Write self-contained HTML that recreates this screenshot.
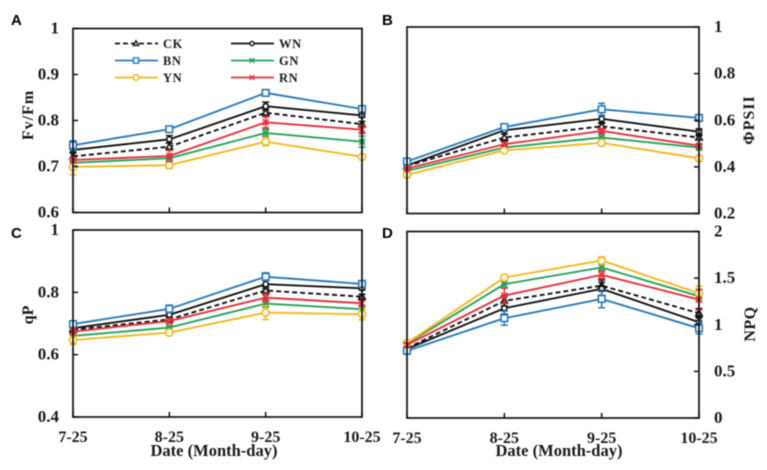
<!DOCTYPE html>
<html>
<head>
<meta charset="utf-8">
<style>
html,body{margin:0;padding:0;background:#fff;width:767px;height:470px;overflow:hidden}
svg{display:block;filter:blur(0.45px)}
text{font-family:"Liberation Serif",serif;font-weight:bold;fill:#1a1a1a}
.letter{font-family:"Liberation Sans",sans-serif;font-size:15px;fill:#000}
.tick{font-size:17px}
.cat{font-size:16px}
.leg{font-size:12.5px}
</style>
</head>
<body>
<svg id="chart" xmlns="http://www.w3.org/2000/svg" width="767" height="470" viewBox="0 0 767 470"></svg>
<script>
const categories = ['7-25','8-25','9-25','10-25'];
const seriesNames = ['CK','WN','BN','GN','YN','RN'];

const ticksA = [0.6,0.7,0.8,0.9,1];
const ticksB = [0.2,0.4,0.6,0.8,1];
const ticksC = [0.4,0.6,0.8,1];
const ticksD = [0,0.5,1,1.5,2];

const A_CK = [0.722,0.743,0.817,0.792];
const A_WN = [0.736,0.759,0.831,0.811];
const A_BN = [0.746,0.781,0.860,0.825];
const A_GN = [0.708,0.718,0.773,0.754];
const A_YN = [0.699,0.703,0.754,0.721];
const A_RN = [0.714,0.723,0.796,0.780];
const errA_CK = [0.007,0.008,0.009,0.006];
const errA_WN = [0.006,0.008,0.009,0.004];
const errA_BN = [0.010,0.003,0.003,0.004];
const errA_GN = [0.004,0.003,0.008,0.012];
const errA_YN = [0.017,0.007,0.009,0.003];
const errA_RN = [0.004,0.012,0.012,0.008];

const B_CK = [0.404,0.526,0.574,0.526];
const B_WN = [0.406,0.557,0.606,0.551];
const B_BN = [0.423,0.571,0.647,0.610];
const B_GN = [0.383,0.483,0.526,0.483];
const B_YN = [0.366,0.471,0.503,0.437];
const B_RN = [0.393,0.497,0.554,0.491];
const errB_CK = [0.006,0.015,0.012,0.008];
const errB_WN = [0.005,0.006,0.015,0.012];
const errB_BN = [0.006,0.012,0.026,0.014];
const errB_GN = [0.006,0.006,0.012,0.010];
const errB_YN = [0.012,0.010,0.012,0.012];
const errB_RN = [0.006,0.008,0.010,0.008];

const C_CK = [0.680,0.713,0.806,0.786];
const C_WN = [0.685,0.728,0.826,0.813];
const C_BN = [0.698,0.747,0.850,0.827];
const C_GN = [0.660,0.687,0.764,0.746];
const C_YN = [0.647,0.671,0.735,0.730];
const C_RN = [0.674,0.708,0.783,0.765];
const errC_CK = [0.005,0.006,0.012,0.008];
const errC_WN = [0.004,0.008,0.014,0.005];
const errC_BN = [0.004,0.012,0.013,0.006];
const errC_GN = [0.005,0.006,0.012,0.010];
const errC_YN = [0.014,0.007,0.022,0.018];
const errC_RN = [0.010,0.008,0.012,0.008];

const D_CK = [0.748,1.256,1.420,1.123];
const D_WN = [0.740,1.177,1.385,1.027];
const D_BN = [0.720,1.070,1.277,0.962];
const D_GN = [0.798,1.435,1.614,1.306];
const D_YN = [0.805,1.506,1.689,1.338];
const D_RN = [0.784,1.313,1.535,1.270];
const errD_CK = [0.020,0.055,0.060,0.050];
const errD_WN = [0.015,0.065,0.070,0.060];
const errD_BN = [0.020,0.075,0.095,0.060];
const errD_GN = [0.015,0.040,0.035,0.050];
const errD_YN = [0.015,0.030,0.040,0.075];
const errD_RN = [0.020,0.080,0.040,0.110];

const NS = 'http://www.w3.org/2000/svg';
const root = document.getElementById('chart');
const colors = {CK:'#111',WN:'#111',BN:'#2a7ab9',GN:'#27a25c',YN:'#f4b81f',RN:'#e5323c'};

function mk(parent, tag, attrs, text){
  const el = document.createElementNS(NS, tag);
  for (const k in attrs) el.setAttribute(k, attrs[k]);
  if (text !== undefined) el.textContent = text;
  parent.appendChild(el);
  return el;
}

function drawMarker(g, name, x, y, big){
  const c = colors[name];
  const s = big ? 1 : 0.8;
  const p = {fill:'none', stroke:c, 'stroke-width':big ? 1.6 : 1.4};
  let m;
  if (name === 'BN') {
    m = mk(g,'rect',Object.assign({x:x-3.3*s,y:y-3.3*s,width:6.6*s,height:6.6*s},p,{fill:'#fff'}));
  } else if (name === 'YN') {
    m = mk(g,'circle',Object.assign({cx:x,cy:y,r:3.6*s},p,{fill:'#fff'}));
  } else if (name === 'WN') {
    m = mk(g,'circle',Object.assign({cx:x,cy:y,r:2.6*s},p,{fill:'#fff'}));
  } else if (name === 'CK') {
    m = mk(g,'polygon',Object.assign({points:`${x},${y-3.4*s} ${x+3.2*s},${y+2.4*s} ${x-3.2*s},${y+2.4*s}`},p,{fill:'#fff'}));
  } else if (name === 'RN') {
    m = mk(g,'path',Object.assign({d:`M${x-3*s} ${y-3*s}L${x+3*s} ${y+3*s}M${x+3*s} ${y-3*s}L${x-3*s} ${y+3*s}`},p));
  } else {
    m = mk(g,'path',Object.assign({d:`M${x-3*s} ${y-3*s}L${x+3*s} ${y+3*s}M${x+3*s} ${y-3*s}L${x-3*s} ${y+3*s}M${x-3*s} ${y}L${x+3*s} ${y}`},p));
  }
  
  
}

function drawPanel(cfg){
  const g = mk(root,'g',{});
  
  

  const sx = i => cfg.x0 + (cfg.x1 - cfg.x0) * i / (categories.length - 1);
  const sy = v => cfg.y1 - (cfg.y1 - cfg.y0) * (v - cfg.min) / (cfg.max - cfg.min);

  const letter = mk(g,'text',{x:cfg.letterX,y:cfg.letterY,class:'letter'},cfg.id);
  
  

  // series
  seriesNames.forEach((name, si) => {
    const vals = cfg.series[si];
    const errs = cfg.errors[si];
    const sg = mk(g,'g',{});
    
    
    vals.forEach((v, i) => {
      const x = sx(i), up = sy(v + errs[i]), dn = sy(v - errs[i]);
      const eb = mk(sg,'path',{d:`M${x} ${up}L${x} ${dn}M${x-3.5} ${up}L${x+3.5} ${up}M${x-3.5} ${dn}L${x+3.5} ${dn}`,stroke:colors[name],'stroke-width':1.5,fill:'none'});
      
      
    });
    const line = mk(sg,'polyline',{points:vals.map((v,i)=>sx(i)+','+sy(v)).join(' '),fill:'none',stroke:colors[name],'stroke-width':1.9,'stroke-dasharray':name==='CK'?'5 3':'none'});
    
    
    vals.forEach((v, i) => drawMarker(sg, name, sx(i), sy(v), true));
  });

  // frame
  const frame = mk(g,'rect',{x:cfg.x0,y:cfg.y0,width:cfg.x1-cfg.x0,height:cfg.y1-cfg.y0,fill:'none',stroke:'#111','stroke-width':1.7});
  
  

  // x ticks
  categories.forEach((c, i) => {
    const x = sx(i);
    const t = mk(g,'line',{x1:x,x2:x,y1:cfg.y1,y2:cfg.y1-5,stroke:'#111','stroke-width':1.5});
    
    
    if (cfg.showX) {
      const lab = mk(g,'text',{x:x,y:cfg.y1+25,'text-anchor':'middle',class:'cat'},c);
      
      
    }
  });

  // y ticks
  cfg.ticks.forEach(v => {
    const y = sy(v);
    const tx = cfg.right ? cfg.x1 - 5 : cfg.x0 + 5;
    const t = mk(g,'line',{x1:cfg.right?cfg.x1:cfg.x0,x2:tx,y1:y,y2:y,stroke:'#111','stroke-width':1.5});
    
    
    const lab = mk(g,'text',{x:cfg.right?714:59,y:y+5,'text-anchor':cfg.right?'start':'end',class:'tick'},String(v));
    
    
  });

  // y title
  const yt = mk(g,'text',{transform:`translate(${cfg.titleX},${cfg.titleY}) rotate(-90)`,'text-anchor':'middle','font-size':16,'letter-spacing':cfg.titleSpacing},cfg.title);
  
  

  if (cfg.showX) {
    const xt = mk(g,'text',{x:cfg.id==='C'?214:559,y:456,'text-anchor':'middle','font-size':16.5},'Date (Month-day)');
    
    
  }
}

drawPanel({id:'A',x0:73,x1:362,y0:28.5,y1:212.5,min:0.6,max:1,ticks:ticksA,right:false,showX:false,
  letterX:11,letterY:25,title:'Fv/Fm',titleX:33,titleY:115,titleSpacing:'1px',
  series:[A_CK,A_WN,A_BN,A_GN,A_YN,A_RN],errors:[errA_CK,errA_WN,errA_BN,errA_GN,errA_YN,errA_RN]});
drawPanel({id:'B',x0:407,x1:699,y0:27,y1:213.5,min:0.2,max:1,ticks:ticksB,right:true,showX:false,
  letterX:382,letterY:25,title:'ΦPSII',titleX:754,titleY:120,titleSpacing:'1px',
  series:[B_CK,B_WN,B_BN,B_GN,B_YN,B_RN],errors:[errB_CK,errB_WN,errB_BN,errB_GN,errB_YN,errB_RN]});
drawPanel({id:'C',x0:73,x1:362,y0:230,y1:417,min:0.4,max:1,ticks:ticksC,right:false,showX:true,
  letterX:11,letterY:238,title:'qP',titleX:33,titleY:315,titleSpacing:'0px',
  series:[C_CK,C_WN,C_BN,C_GN,C_YN,C_RN],errors:[errC_CK,errC_WN,errC_BN,errC_GN,errC_YN,errC_RN]});
drawPanel({id:'D',x0:407,x1:699,y0:231.5,y1:418,min:0,max:2,ticks:ticksD,right:true,showX:true,
  letterX:382,letterY:238,title:'NPQ',titleX:755,titleY:324,titleSpacing:'0.5px',
  series:[D_CK,D_WN,D_BN,D_GN,D_YN,D_RN],errors:[errD_CK,errD_WN,errD_BN,errD_GN,errD_YN,errD_RN]});

// legend
const legend = mk(root,'g',{});


seriesNames.forEach((name, i) => {
  const col = i % 2, row = Math.floor(i / 2);
  const lx = col ? 231 : 115, ly = 43.5 + row * 17;
  const e = mk(legend,'g',{});
  
  
  const sw = mk(e,'line',{x1:lx,x2:lx+43,y1:ly,y2:ly,stroke:colors[name],'stroke-width':1.8,'stroke-dasharray':name==='CK'?'5 3':'none'});
  
  
  drawMarker(e, name, lx + 21, ly, false);
  const t = mk(e,'text',{x:lx+48,y:ly+4.5,class:'leg','letter-spacing':'0.6px'},name);
  
  
});
</script>
</body>
</html>
